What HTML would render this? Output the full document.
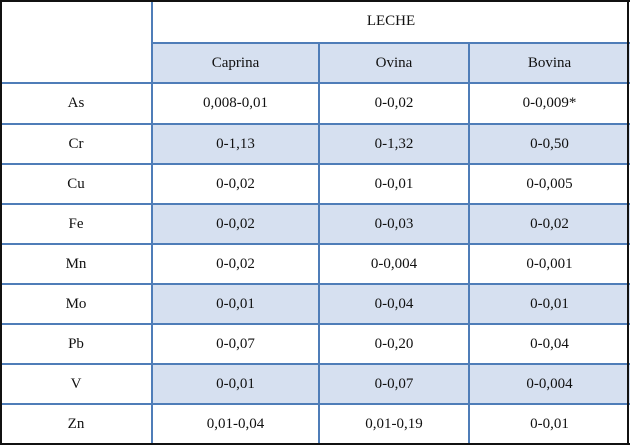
<!DOCTYPE html>
<html><head><meta charset="utf-8"><style>
body{margin:0;width:630px;height:446px;background:#fff;overflow:hidden}
#t{position:absolute;left:0;top:0;width:630px;height:446px;font-family:"Liberation Serif",serif;font-size:15px;color:#111}
.c{position:absolute;display:flex;align-items:center;justify-content:center;box-sizing:border-box}
.s{background:#d6e0f0}
.h{position:absolute;background:#4f7db8}
</style></head><body>
<div id="t"></div>
<script>
const xs=[0,152,319,469,630];
const ys=[0,43,83,124,164,204,244,284,324,364,404,444];
const cols=["Caprina","Ovina","Bovina"];
const elems=["As","Cr","Cu","Fe","Mn","Mo","Pb","V","Zn"];
const vals=[["0,008-0,01","0-0,02","0-0,009*"],["0-1,13","0-1,32","0-0,50"],["0-0,02","0-0,01","0-0,005"],["0-0,02","0-0,03","0-0,02"],["0-0,02","0-0,004","0-0,001"],["0-0,01","0-0,04","0-0,01"],["0-0,07","0-0,20","0-0,04"],["0-0,01","0-0,07","0-0,004"],["0,01-0,04","0,01-0,19","0-0,01"]];
const t=document.getElementById('t');
function cell(x0,y0,x1,y1,txt,sh,name){const d=document.createElement('div');d.className='c'+(sh?' s':'');
d.style.left=x0+'px';d.style.top=y0+'px';d.style.width=(x1-x0)+'px';d.style.height=(y1-y0)+'px';d.textContent=txt;


t.appendChild(d);}
cell(xs[1],ys[0],xs[4],ys[1],"LECHE",false,"leche-header");
cols.forEach((c,i)=>cell(xs[i+1],ys[1],xs[i+2],ys[2],c,true,"col-header-"+c.toLowerCase()));
elems.forEach((e,r)=>{const sh=r%2==1;
cell(xs[0],ys[r+2],xs[1],ys[r+3],e,false,"row-label-"+e.toLowerCase());
vals[r].forEach((v,i)=>cell(xs[i+1],ys[r+2],xs[i+2],ys[r+3],v,sh,"cell-"+e.toLowerCase()+"-"+cols[i].toLowerCase()));});
function line(x,y,w,h,col,name){const d=document.createElement('div');d.className='h';d.style.left=x+'px';d.style.top=y+'px';d.style.width=w+'px';d.style.height=h+'px';if(col)d.style.background=col;


t.appendChild(d);}
for(let i=1;i<ys.length-1;i++){const x0=i==1?xs[1]:0;line(x0,ys[i]-1,630-x0,2,null,'h-rule');}
for(let i=1;i<4;i++){const y0=i==1?0:ys[1];line(xs[i]-1,y0,2,444-y0,null,'v-rule');}
line(0,0,630,2,'#111','border-top');
line(0,443,630,2,'#111','border-bottom');
line(0,0,2,445,'#111','border-left');
line(627,0,2,445,'#111','border-right');
</script>
</body></html>
